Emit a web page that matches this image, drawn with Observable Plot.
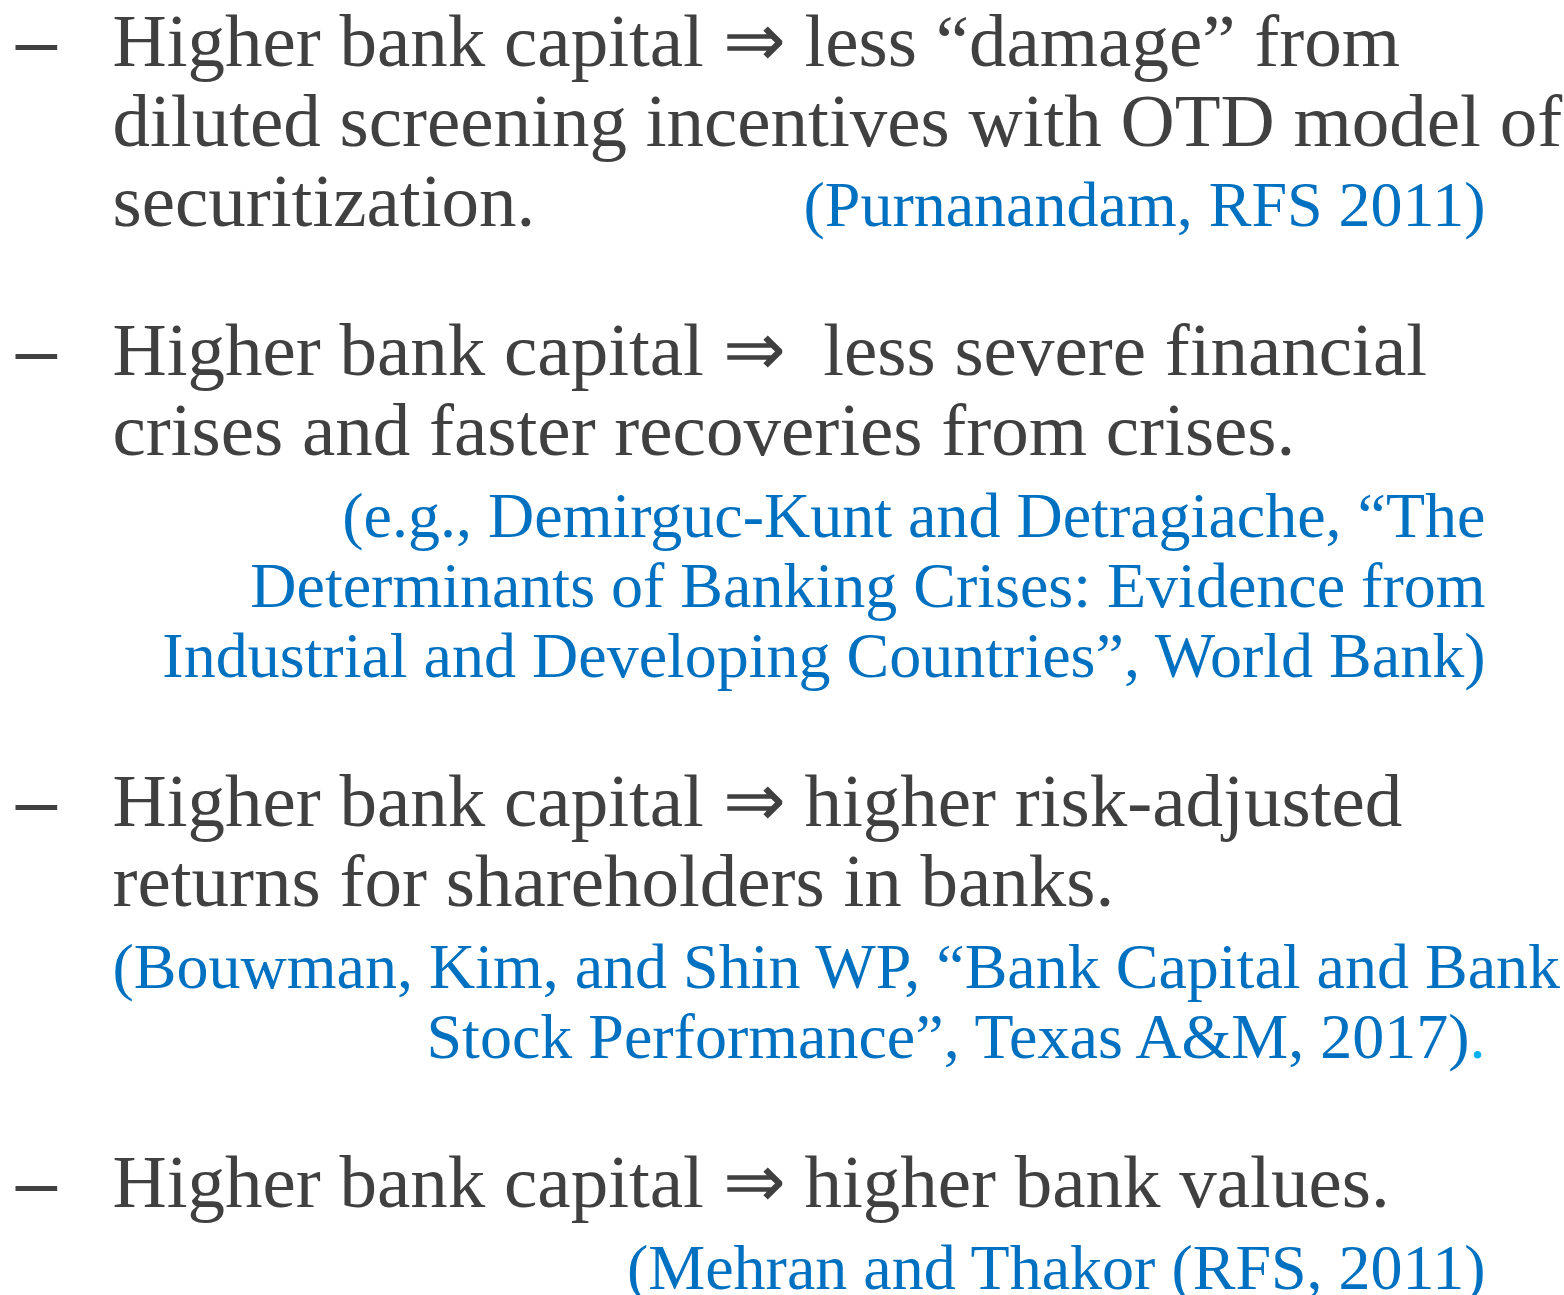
<!DOCTYPE html>
<html><head><meta charset="utf-8">
<script src="https://cdn.jsdelivr.net/npm/d3@7"></script>
<script src="https://cdn.jsdelivr.net/npm/@observablehq/plot@0.6"></script>
<style>
html,body{margin:0;padding:0;background:#fff;}
svg text{white-space:pre;}
</style>
</head><body><div id="chart"></div>
<script>
// ---- content ----
const bulletSymbol = "–";
const block1Main = ["Higher bank capital ⇒ less “damage” from", "diluted screening incentives with OTD model of", "securitization."];
const block1Cite = ["(Purnanandam, RFS 2011)"];
const block2Main = ["Higher bank capital ⇒  less severe financial", "crises and faster recoveries from crises."];
const block2Cite = ["(e.g., Demirguc-Kunt and Detragiache, “The", "Determinants of Banking Crises: Evidence from", "Industrial and Developing Countries”, World Bank)"];
const block3Main = ["Higher bank capital ⇒ higher risk-adjusted", "returns for shareholders in banks."];
const block3Cite = ["(Bouwman, Kim, and Shin WP, “Bank Capital and Bank", "Stock Performance”, Texas A&M, 2017)"];
const block3CiteTail = ".";
const block4Main = ["Higher bank capital ⇒ higher bank values."];
const block4Cite = ["(Mehran and Thakor (RFS, 2011)"];

// ---- layout ----
const W = 1564, H = 1295;
const mainSize = 75, citeSize = 64;
const mainLead = 80, citeLead = 70, citeGap = 82, blockGap = 149;
const textLeft = 112, citeRight = 1485, dashLeft = 15;

const blocks = [
  {main: block1Main, cite: block1Cite, inline: true, align: ["end"]},
  {main: block2Main, cite: block2Cite, inline: false, align: ["end", "end", "end"]},
  {main: block3Main, cite: block3Cite, inline: false, align: ["start", "end"], tail: block3CiteTail},
  {main: block4Main, cite: block4Cite, inline: false, align: ["end"]}
];

const mainRows = [], citeRows = [], dashRows = [], tailRows = [];
let y = 65;
const tailW = citeSize * 0.25;
for (const b of blocks) {
  dashRows.push({x: dashLeft, y, text: bulletSymbol});
  b.main.forEach((t, i) => {
    mainRows.push({x: textLeft, y, text: t});
    if (i < b.main.length - 1) y += mainLead;
  });
  y += b.inline ? 0 : citeGap;
  b.cite.forEach((t, i) => {
    const last = i === b.cite.length - 1;
    const anchor = b.align[i];
    let x = anchor === "start" ? textLeft : citeRight;
    if (last && b.tail) {
      x = citeRight - tailW;
      tailRows.push({x, y, text: b.tail});
    }
    citeRows.push({x, y, text: t, anchor});
    if (!last) y += citeLead;
  });
  y += blockGap;
}

const chart = Plot.plot({
  width: W, height: H,
  margin: 0,
  x: {type: "identity", axis: null},
  y: {type: "identity", axis: null},
  marks: [
    Plot.text(dashRows, {x: "x", y: "y", text: "text", textAnchor: "start", lineAnchor: "bottom",
      fontSize: mainSize, fontFamily: "Liberation Sans", fill: "#404040"}),
    Plot.text(mainRows, {x: "x", y: "y", text: "text", textAnchor: "start", lineAnchor: "bottom",
      fontSize: mainSize, fontFamily: "Liberation Serif", fill: "#404040"}),
    Plot.text(citeRows.filter(d => d.anchor === "start"), {x: "x", y: "y", text: "text", textAnchor: "start", lineAnchor: "bottom",
      fontSize: citeSize, fontFamily: "Liberation Serif", fill: "#0070C0"}),
    Plot.text(citeRows.filter(d => d.anchor === "end"), {x: "x", y: "y", text: "text", textAnchor: "end", lineAnchor: "bottom",
      fontSize: citeSize, fontFamily: "Liberation Serif", fill: "#0070C0"}),
    Plot.text(tailRows, {x: "x", y: "y", text: "text", textAnchor: "start", lineAnchor: "bottom",
      fontSize: citeSize, fontFamily: "Liberation Serif", fill: "#00B0F0"})
  ]
});
chart.style.background = "#fff";
document.getElementById("chart").appendChild(chart);
</script>
</body></html>
